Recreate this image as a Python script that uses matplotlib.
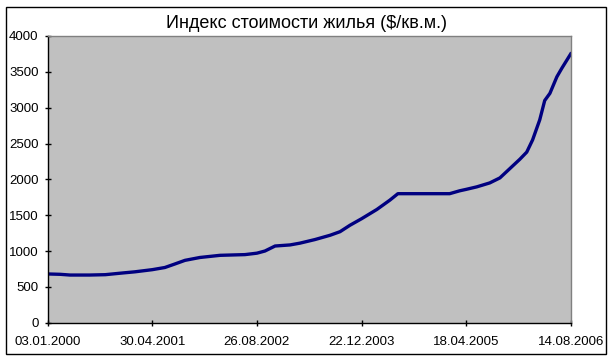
import matplotlib
matplotlib.use("Agg")
import matplotlib.pyplot as plt
from matplotlib.patches import Rectangle
import pandas as pd

title = "Индекс стоимости жилья ($/кв.м.)"

dates = [
    "2000-01-03", "2000-03-01", "2000-04-15", "2000-07-15", "2000-09-25",
    "2000-12-01", "2001-02-09", "2001-04-30", "2001-06-27", "2001-08-13",
    "2001-09-28", "2001-12-06", "2002-03-09", "2002-07-02", "2002-08-26",
    "2002-10-02", "2002-11-18", "2003-01-26", "2003-03-13", "2003-05-21",
    "2003-07-30", "2003-09-14", "2003-10-30", "2003-12-22", "2004-03-02",
    "2004-05-01", "2004-06-07", "2005-02-01", "2005-03-19", "2005-04-18",
    "2005-06-06", "2005-08-05", "2005-09-21", "2005-11-06", "2005-12-22",
    "2006-01-23", "2006-02-19", "2006-03-24", "2006-04-16", "2006-05-10",
    "2006-06-11", "2006-07-04", "2006-08-14",
]
values = [
    680, 675, 665, 665, 670,
    690, 710, 740, 770, 820,
    870, 910, 940, 950, 970,
    1000, 1070, 1085, 1110, 1160,
    1220, 1270, 1360, 1450, 1580,
    1710, 1800, 1800, 1840, 1860,
    1895, 1950, 2020, 2150, 2280,
    2380, 2550, 2830, 3100, 3200,
    3430, 3550, 3750,
]
tick_labels = ["03.01.2000", "30.04.2001", "26.08.2002",
               "22.12.2003", "18.04.2005", "14.08.2006"]
y_ticks = [0, 500, 1000, 1500, 2000, 2500, 3000, 3500, 4000]

plt.rcParams['font.family'] = ['Liberation Sans', 'DejaVu Sans']

W, H = 613, 361
fig = plt.figure(figsize=(W / 100, H / 100), dpi=100)
fig.patch.set_facecolor("white")

left, right, top, bottom = 47.7, 570.7, 36.0, 322.7
ax = fig.add_axes([left / W, 1 - bottom / H, (right - left) / W, (bottom - top) / H])
ax.set_facecolor("#C0C0C0")

x = pd.to_datetime(dates)
ax.plot(x, values, color="#000080", lw=2.4, solid_joinstyle="round")

tick_dates = pd.to_datetime(tick_labels, format="%d.%m.%Y")
ax.set_xlim(tick_dates[0], tick_dates[-1])
ax.set_xticks(tick_dates)
ax.set_xticklabels(tick_labels)
ax.set_ylim(0, 4000)
ax.set_yticks(y_ticks)

for s in ["top", "right"]:
    ax.spines[s].set_color("#808080")
    ax.spines[s].set_linewidth(1.0)
for s in ["left", "bottom"]:
    ax.spines[s].set_color("black")
    ax.spines[s].set_linewidth(1.0)

ax.tick_params(axis="both", direction="inout", length=5, width=1, colors="black",
               labelsize=9.5)
ax.tick_params(axis="x", pad=7)
ax.tick_params(axis="y", pad=4)

fig.text(306 / W, 1 - 23 / H, title, ha="center", va="center", fontsize=13)

fig.add_artist(Rectangle((5.7 / W, 1 - 354 / H), (606 - 5.7) / W, (354 - 7) / H,
                         transform=fig.transFigure, fill=False, ec="black", lw=1.0))

fig.savefig("out.png", dpi=100)
